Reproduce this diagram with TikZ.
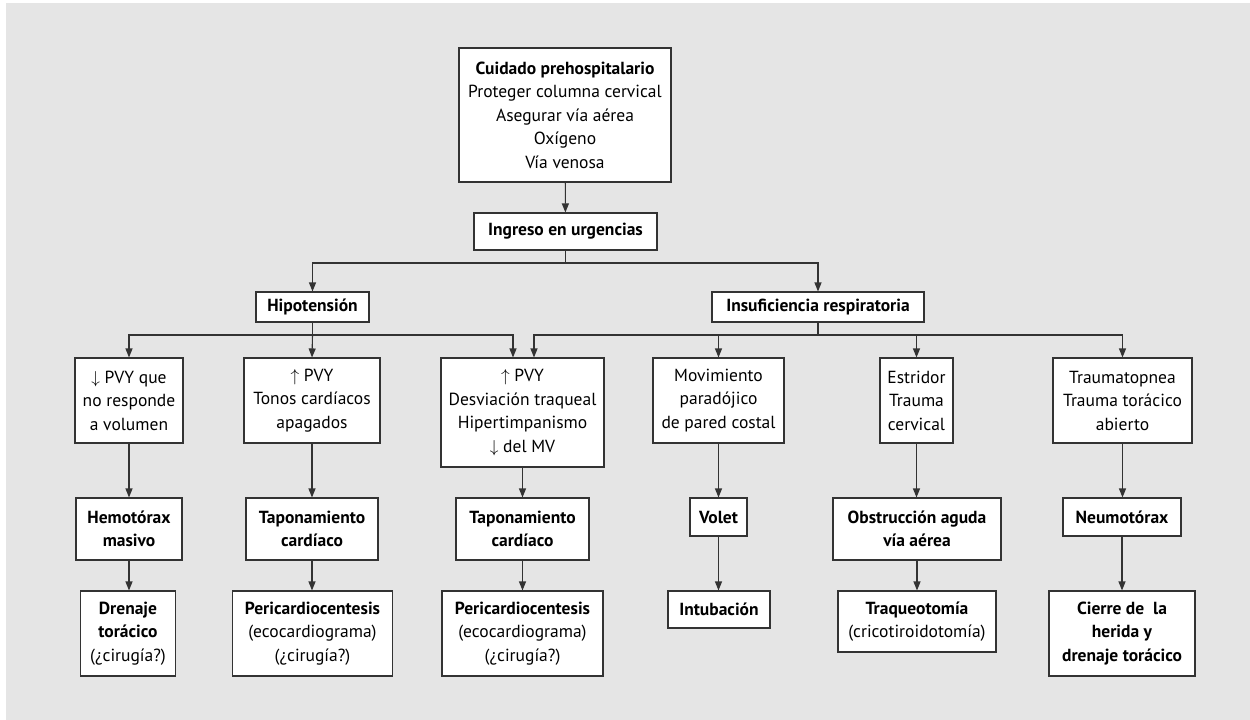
\documentclass[tikz,border=0pt]{standalone}
\usepackage{fontspec}
\setmainfont{PT Sans}
\usetikzlibrary{arrows.meta}
\definecolor{bggray}{HTML}{E5E5E5}
\definecolor{linec}{HTML}{333333}
\begin{document}
\begin{tikzpicture}[x=1pt,y=-1pt,
  box/.style={draw=linec, line width=1.1pt, fill=white, align=center, inner sep=0pt,
    font=\fontsize{17.5}{23.5}\selectfont, text=black},
  arr/.style={draw=linec, line width=1.1pt, -{Triangle[length=9pt,width=7pt]}},
  ln/.style={draw=linec, line width=1.1pt}]
\useasboundingbox (0,0) rectangle (1250,720);
\fill[bggray] (6,3) rectangle (1250,720);
% level 1
\node[box, minimum width=212, minimum height=134] (top) at (565,115)
  {\textbf{Cuidado prehospitalario}\\Proteger columna cervical\\Asegurar vía aérea\\Oxígeno\\Vía venosa};
\node[box, minimum width=183, minimum height=37] (ing) at (565.5,231.5) {\textbf{Ingreso en urgencias}};
% level 2
\node[box, minimum width=113, minimum height=30] (hipo) at (312.5,307) {\textbf{Hipotensión}};
\node[box, minimum width=212, minimum height=30] (insuf) at (818,307) {\textbf{Insuficiencia respiratoria}};
% level 3
\node[box, minimum width=108, minimum height=85] (s1) at (129,400.5) {$\downarrow$ PVY que\\no responde\\a volumen};
\node[box, minimum width=136, minimum height=85] (s2) at (312,400.5) {$\uparrow$ PVY\\Tonos cardíacos\\apagados};
\node[box, minimum width=163, minimum height=109] (s3) at (522.5,412.5) {$\uparrow$ PVY\\Desviación traqueal\\Hipertimpanismo\\$\downarrow$ del MV};
\node[box, minimum width=131, minimum height=85] (s4) at (718.5,400.5) {Movimiento\\paradójico\\de pared costal};
\node[box, minimum width=73, minimum height=85] (s5) at (916.5,400.5) {Estridor\\Trauma\\cervical};
\node[box, minimum width=139, minimum height=85] (s6) at (1122.5,400.5) {Traumatopnea\\Trauma torácico\\abierto};
% level 4
\node[box, minimum width=106, minimum height=62] (d1) at (129,529) {\textbf{Hemotórax}\\\textbf{masivo}};
\node[box, minimum width=132, minimum height=62] (d2) at (312,529) {\textbf{Taponamiento}\\\textbf{cardíaco}};
\node[box, minimum width=133, minimum height=62] (d3) at (522.5,529) {\textbf{Taponamiento}\\\textbf{cardíaco}};
\node[box, minimum width=57, minimum height=38] (d4) at (718.5,517) {\textbf{Volet}};
\node[box, minimum width=168, minimum height=62] (d5) at (917,529) {\textbf{Obstrucción aguda}\\\textbf{vía aérea}};
\node[box, minimum width=118, minimum height=38] (d6) at (1122,517) {\textbf{Neumotórax}};
% level 5
\node[box, minimum width=95, minimum height=85] (t1) at (128,633.5) {\textbf{Drenaje}\\\textbf{torácico}\\(¿cirugía?)};
\node[box, minimum width=160, minimum height=85] (t2) at (312.5,633.5) {\textbf{Pericardiocentesis}\\(ecocardiograma)\\(¿cirugía?)};
\node[box, minimum width=161, minimum height=85] (t3) at (522.5,633.5) {\textbf{Pericardiocentesis}\\(ecocardiograma)\\(¿cirugía?)};
\node[box, minimum width=102, minimum height=37] (t4) at (719,609.5) {\textbf{Intubación}};
\node[box, minimum width=158, minimum height=61] (t5) at (917,621.5) {\textbf{Traqueotomía}\\(cricotiroidotomía)};
\node[box, minimum width=146, minimum height=85] (t6) at (1122,633.5) {\textbf{Cierre de\ \ la}\\\textbf{herida y}\\\textbf{drenaje torácico}};
% connectors
\draw[arr] (top) -- (ing);
\coordinate (j1) at (565.5,263);
\draw[ln] (ing.south) -- (j1);
\draw[arr] (j1) -| (hipo.north);
\draw[arr] (j1) -| (insuf.north);
\coordinate (j2) at (312.5,335);
\draw[ln] (hipo.south) -- (j2);
\draw[arr] (j2) -| (s1.north);
\draw[arr] (j2) -- (s2.north);
\draw[arr] (j2) -| ([xshift=-9.5pt]s3.north);
\coordinate (j3) at (818,335);
\draw[ln] (insuf.south) -- (j3);
\draw[arr] (j3) -| ([xshift=11.5pt]s3.north);
\draw[arr] (j3) -| (s4.north);
\draw[arr] (j3) -| (s5.north);
\draw[arr] (j3) -| (s6.north);
\foreach \a/\b in {s1/d1,s2/d2,s3/d3,s4/d4,s5/d5,s6/d6,d1/t1,d2/t2,d3/t3,d4/t4,d5/t5,d6/t6}
  \draw[arr] (\a.south) -- (\a.south |- \b.north);
\end{tikzpicture}
\end{document}
